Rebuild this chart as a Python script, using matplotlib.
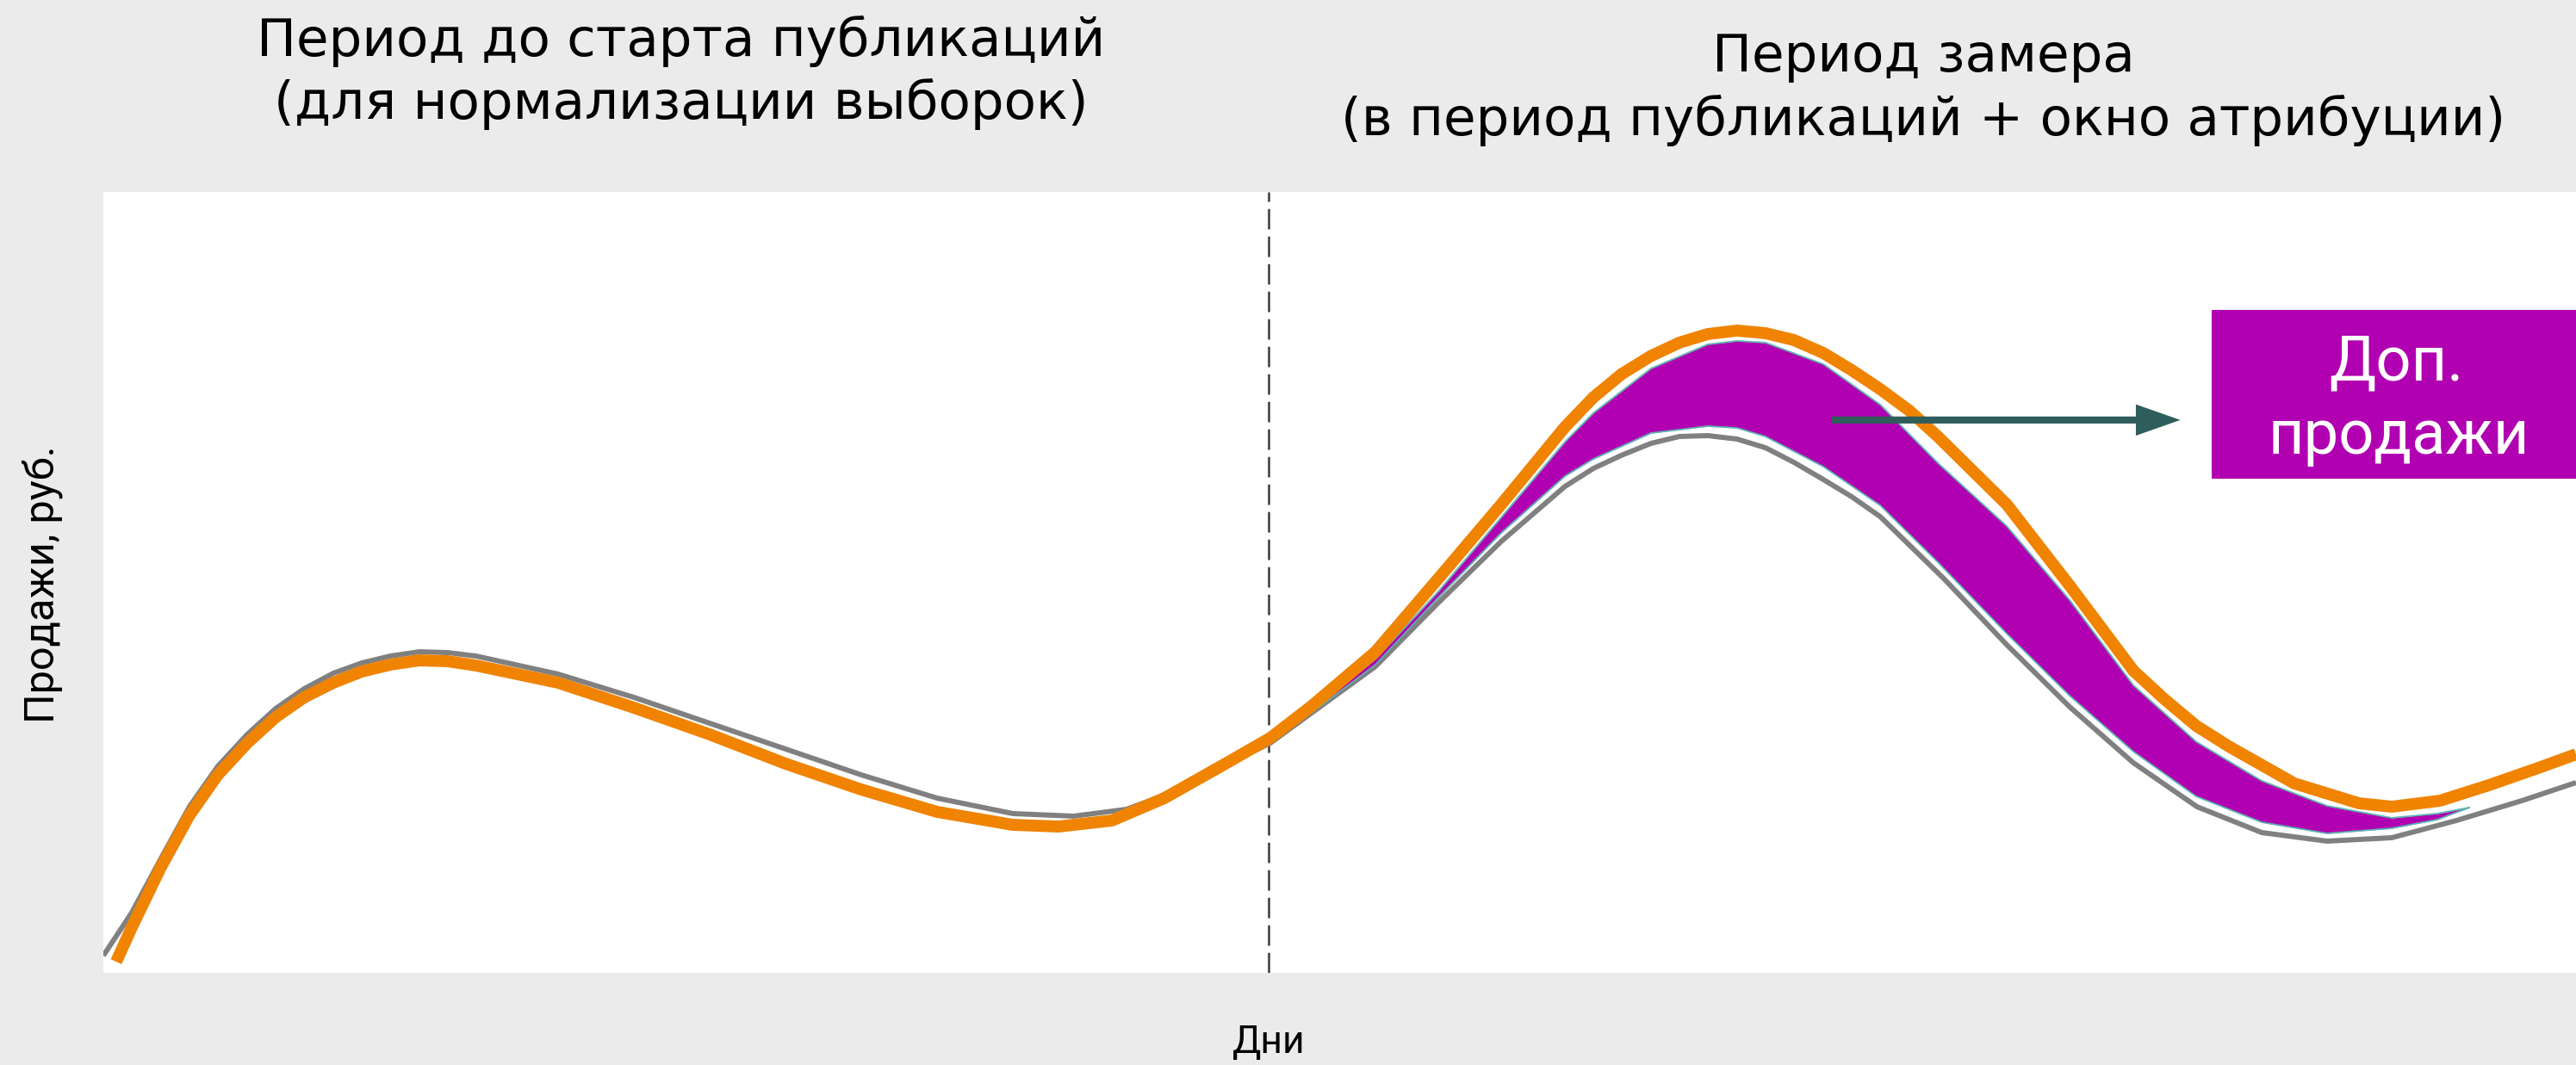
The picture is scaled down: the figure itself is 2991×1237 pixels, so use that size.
import matplotlib
matplotlib.use("Agg")
import matplotlib.pyplot as plt
from matplotlib.patches import Rectangle

# Data (days 0..100, sales 0..100, arbitrary units)
control_days = [0.0, 1.15, 2.33, 3.48, 4.63, 5.82, 6.97, 8.12, 9.30, 10.45,
                11.60, 12.78, 13.93, 15.08, 18.39, 21.46, 24.52, 27.59, 30.65,
                33.72, 36.78, 39.25, 41.38, 43.54, 45.98, 47.20, 48.87, 51.45,
                53.99, 56.53, 59.11, 60.26, 61.41, 62.59, 63.74, 64.89, 66.07,
                67.22, 68.37, 69.56, 70.71, 71.86, 74.43, 76.98, 79.52, 82.10,
                84.67, 87.29, 89.93, 92.55, 95.16, 97.81, 100.0]
control_sales = [2.21, 7.72, 14.66, 21.28, 26.46, 30.54, 33.85, 36.38, 38.37,
                 39.69, 40.57, 41.12, 41.01, 40.57, 38.26, 35.28, 31.97, 28.67,
                 25.36, 22.38, 20.40, 20.07, 20.95, 23.48, 27.56, 29.44, 33.30,
                 39.25, 47.41, 55.24, 62.29, 64.60, 66.30, 67.81, 68.69, 68.80,
                 68.36, 67.25, 65.38, 63.18, 60.97, 58.43, 50.50, 42.01, 34.07,
                 26.90, 21.28, 17.97, 16.87, 17.31, 19.51, 22.05, 24.37]

test_days = [0.52, 1.15, 2.33, 3.48, 4.63, 5.82, 6.97, 8.12, 9.30, 10.45,
             11.60, 12.78, 13.93, 15.08, 18.39, 21.46, 24.52, 27.59, 30.65,
             33.72, 36.78, 38.63, 40.79, 42.91, 45.38, 47.20, 48.87, 51.45,
             53.99, 56.53, 59.11, 60.26, 61.41, 62.59, 63.74, 64.89, 66.07,
             67.22, 68.37, 69.56, 70.71, 71.86, 73.04, 74.19, 76.98, 79.52,
             82.10, 83.35, 84.64, 85.96, 88.61, 91.22, 92.55, 94.50, 96.48,
             98.47, 100.0]
test_sales = [1.43, 5.84, 13.56, 20.18, 25.36, 29.44, 32.75, 35.28, 37.16,
              38.59, 39.47, 40.02, 39.91, 39.36, 37.16, 33.96, 30.54, 26.79,
              23.48, 20.62, 18.96, 18.74, 19.51, 22.38, 26.79, 30.10, 34.18,
              41.12, 50.50, 59.98, 69.90, 73.70, 76.70, 79.00, 80.71, 81.81,
              82.25, 81.92, 81.04, 79.38, 77.18, 74.75, 72.00, 68.69, 59.98,
              49.61, 38.70, 35.06, 31.64, 29.00, 24.26, 21.72, 21.28, 22.05,
              24.04, 26.24, 28.00]

# extra sales band (filled area between the two teal edges)
band_days = [47.13, 48.87, 51.45, 53.99, 56.53, 59.11, 60.26, 62.59, 64.89,
             66.07, 67.22, 69.56, 71.86, 74.19, 76.98, 79.52, 82.10, 84.64,
             87.29, 89.93, 92.55, 94.39, 95.68]
band_top = [29.77, 33.60, 40.20, 48.84, 58.32, 68.00, 71.70, 77.40, 80.49,
            80.93, 80.71, 77.95, 72.77, 65.30, 57.20, 47.74, 36.82, 29.60,
            24.59, 21.39, 19.85, 20.40, 21.17]
band_bottom = [29.77, 33.30, 39.47, 48.07, 56.34, 63.62, 65.82, 69.13, 70.01,
               69.79, 68.69, 64.83, 59.87, 52.60, 43.44, 35.50, 28.34, 22.60,
               19.29, 17.86, 18.52, 19.63, 21.17]

publish_start = 47.13
arrow_y = 70.8
arrow_from, arrow_to = 69.9, 84.0

BG = '#EBEBEB'
ORANGE = '#F08300'
GREY = '#808080'
MAGENTA = '#B100B1'
TEAL = '#5DB5B0'
ARROW = '#2E5D5B'

fig = plt.figure(figsize=(29.91, 12.37), dpi=100, facecolor=BG)
ax = fig.add_axes([120/2991, 107/1237, 2871/2991, 907/1237])
ax.set_facecolor('white')
ax.set_xlim(0, 100)
ax.set_ylim(0, 100)
for sp in ax.spines.values():
    sp.set_visible(False)
ax.set_xticks([])
ax.set_yticks([])

ax.axvline(publish_start, color='#3a3a3a', lw=1.8, dashes=(9.5, 3.3), zorder=1)

ax.plot(control_days, control_sales, color=GREY, lw=4.3,
        solid_capstyle='butt', solid_joinstyle='round', zorder=2)
ax.fill_between(band_days, band_bottom, band_top, color=MAGENTA, lw=0,
                zorder=3)
ax.plot(band_days, band_top, color=TEAL, lw=1.3, zorder=4)
ax.plot(band_days, band_bottom, color=TEAL, lw=1.3, zorder=4)
ax.plot(test_days, test_sales, color=ORANGE, lw=10,
        solid_capstyle='butt', solid_joinstyle='round', zorder=5)

ax.arrow(arrow_from, arrow_y, arrow_to - arrow_from, 0, width=0.9,
         head_width=4.0, head_length=1.8, length_includes_head=True,
         color=ARROW, lw=0, zorder=6)

ax.add_patch(Rectangle((0.8527, 0.6329), 0.2, 0.2161, transform=ax.transAxes,
                       facecolor=MAGENTA, edgecolor='none', clip_on=False,
                       zorder=7))
box_font = dict(transform=ax.transAxes, ha='center', va='baseline',
                color='white', fontsize=52, family='Roboto', zorder=8)
ax.text(0.9273, 0.7586, 'Доп.', **box_font)
ax.text(0.9283, 0.6648, 'продажи', **box_font)

title_font = dict(family='DejaVu Sans', fontsize=44, color='black',
                  ha='center', va='baseline')
fig.text(0.2645, 1 - 65/1237, 'Период до старта публикаций', **title_font)
fig.text(0.2645, 1 - 138/1237, '(для нормализации выборок)', **title_font)
fig.text(0.7466, 1 - 83/1237, 'Период замера', **title_font)
fig.text(0.7466, 1 - 157/1237, '(в период публикаций + окно атрибуции)',
         **title_font)

fig.text(49/2991, 1 - 679/1237, 'Продажи, руб.', rotation=90, family='Roboto',
         fontsize=35, ha='center', va='center')
fig.text(1473/2991, 1 - 1223/1237, 'Дни', family='Roboto', fontsize=32,
         ha='center', va='baseline')

plt.savefig('out.png', dpi=100, facecolor=BG)
